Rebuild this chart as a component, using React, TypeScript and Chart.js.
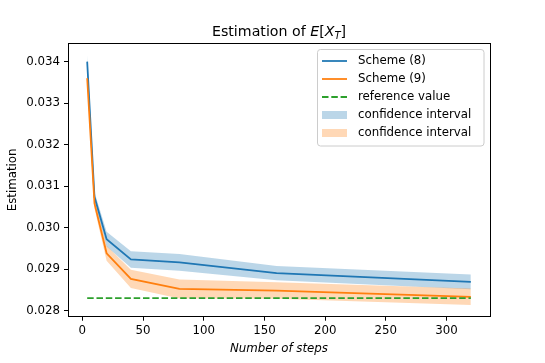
import React, { useEffect, useRef } from 'react';
import { Chart, registerables } from 'chart.js';

Chart.register(...registerables);

// ---- data ----
const steps = [4, 10, 20, 40, 80, 160, 320];
const scheme8 = [0.0340, 0.03074, 0.02972, 0.02923, 0.02916, 0.02890, 0.02869];
const scheme9 = [0.0336, 0.03058, 0.02938, 0.02876, 0.02852, 0.02848, 0.02833];
const ci8 = [0.00015, 0.00012, 0.00018, 0.0002, 0.0002, 0.00017, 0.00018];
const ci9 = [0.00012, 0.00012, 0.00018, 0.00022, 0.00023, 0.0002, 0.0002];
const referenceValue = 0.0283;
const xTicks = [0, 50, 100, 150, 200, 250, 300];
const xTickLabels = ['0', '50', '100', '150', '200', '250', '300'];
const yTicks = [0.028, 0.029, 0.030, 0.031, 0.032, 0.033, 0.034];
const yTickLabels = ['0.028', '0.029', '0.030', '0.031', '0.032', '0.033', '0.034'];
const legendLabels = ['Scheme (8)', 'Scheme (9)', 'reference value', 'confidence interval', 'confidence interval'];

const BLUE = '#1f77b4';
const ORANGE = '#ff7f0e';
const GREEN = '#2ca02c';
const BLUE_FILL = 'rgba(31,119,180,0.3)';
const ORANGE_FILL = 'rgba(255,127,14,0.3)';
const FONT = "'DejaVu Sans'";

const pts = (ys: number[]) => steps.map((x, i) => ({ x, y: ys[i] }));

const decorations = {
  id: 'decorations',
  afterDraw(chart: any) {
    const ctx = chart.ctx as CanvasRenderingContext2D;
    const a = chart.chartArea;
    ctx.save();
    // frame
    ctx.strokeStyle = '#000';
    ctx.lineWidth = 1;
    const l = Math.floor(a.left) + 0.5, r = Math.floor(a.right) + 0.5;
    const t = Math.floor(a.top) + 0.5, b = Math.floor(a.bottom) + 0.5;
    ctx.strokeRect(l, t, r - l, b - t);

    const cx = (a.left + a.right) / 2;
    // title
    const parts = [
      { s: 'Estimation of ', f: `14.2px ${FONT}`, dy: 0 },
      { s: 'E', f: `italic 14.2px ${FONT}`, dy: 0 },
      { s: '[', f: `14.2px ${FONT}`, dy: 0 },
      { s: 'X', f: `italic 14.2px ${FONT}`, dy: 0 },
      { s: 'T', f: `italic 10px ${FONT}`, dy: 3 },
      { s: ']', f: `14.2px ${FONT}`, dy: 0 },
    ];
    let w = 0;
    for (const p of parts) { ctx.font = p.f; w += ctx.measureText(p.s).width; }
    let x = cx - w / 2;
    ctx.fillStyle = '#000';
    ctx.textBaseline = 'alphabetic';
    ctx.textAlign = 'left';
    for (const p of parts) {
      ctx.font = p.f;
      ctx.fillText(p.s, x, 35.5 + p.dy);
      x += ctx.measureText(p.s).width;
    }
    // x axis label
    ctx.font = `italic 11.8px ${FONT}`;
    ctx.textAlign = 'center';
    ctx.textBaseline = 'middle';
    ctx.fillText('Number of steps', cx, 348.5);
    // y axis label
    ctx.save();
    ctx.translate(13, (a.top + a.bottom) / 2);
    ctx.rotate(-Math.PI / 2);
    ctx.font = `11.8px ${FONT}`;
    ctx.fillText('Estimation', 0, 0);
    ctx.restore();

    // legend
    const lx0 = 317.5, ly0 = 49.5, lx1 = 484, ly1 = 146;
    const rad = 3;
    ctx.beginPath();
    ctx.moveTo(lx0 + rad, ly0);
    ctx.arcTo(lx1, ly0, lx1, ly1, rad);
    ctx.arcTo(lx1, ly1, lx0, ly1, rad);
    ctx.arcTo(lx0, ly1, lx0, ly0, rad);
    ctx.arcTo(lx0, ly0, lx1, ly0, rad);
    ctx.closePath();
    ctx.fillStyle = 'rgba(255,255,255,0.8)';
    ctx.fill();
    ctx.strokeStyle = '#cccccc';
    ctx.lineWidth = 1;
    ctx.stroke();

    const rows = [61, 79, 97, 115, 133];
    const hx0 = 322, hx1 = 347;
    const styles = [
      { kind: 'line', c: BLUE, dash: [] as number[] },
      { kind: 'line', c: ORANGE, dash: [] as number[] },
      { kind: 'line', c: GREEN, dash: [6.5, 2.8] },
      { kind: 'patch', c: BLUE_FILL, dash: [] as number[] },
      { kind: 'patch', c: ORANGE_FILL, dash: [] as number[] },
    ];
    styles.forEach((s, i) => {
      const y = rows[i];
      if (s.kind === 'line') {
        ctx.beginPath();
        ctx.setLineDash(s.dash);
        ctx.strokeStyle = s.c;
        ctx.lineWidth = 1.77;
        ctx.moveTo(hx0, y);
        ctx.lineTo(hx1, y);
        ctx.stroke();
        ctx.setLineDash([]);
      } else {
        ctx.fillStyle = s.c;
        ctx.fillRect(hx0, y - 4, hx1 - hx0, 8);
      }
      ctx.fillStyle = '#000';
      ctx.font = `11.8px ${FONT}`;
      ctx.textAlign = 'left';
      ctx.textBaseline = 'middle';
      ctx.fillText(legendLabels[i], 358, y);
    });
    ctx.restore();
  },
};

export default function App() {
  const ref = useRef<HTMLCanvasElement | null>(null);
  useEffect(() => {
    if (!ref.current) return;
    const lower8 = scheme8.map((v, i) => v - ci8[i]);
    const upper8 = scheme8.map((v, i) => v + ci8[i]);
    const lower9 = scheme9.map((v, i) => v - ci9[i]);
    const upper9 = scheme9.map((v, i) => v + ci9[i]);
    const base = { pointRadius: 0, tension: 0 };
    const chart = new Chart(ref.current, {
      type: 'line',
      data: {
        datasets: [
          { ...base, label: legendLabels[0], data: pts(scheme8), borderColor: BLUE, borderWidth: 1.77, fill: false, order: 3 },
          { ...base, label: legendLabels[1], data: pts(scheme9), borderColor: ORANGE, borderWidth: 1.77, fill: false, order: 2 },
          { ...base, label: legendLabels[2], data: [{ x: steps[0], y: referenceValue }, { x: steps[steps.length - 1], y: referenceValue }], borderColor: GREEN, borderWidth: 1.77, borderDash: [6.5, 2.8], fill: false, order: 1 },
          { ...base, label: 'ci8 lower', data: pts(lower8), borderWidth: 0, borderColor: 'rgba(0,0,0,0)', fill: false, order: 5 },
          { ...base, label: legendLabels[3], data: pts(upper8), borderWidth: 0, borderColor: 'rgba(0,0,0,0)', backgroundColor: BLUE_FILL, fill: 3, order: 5 },
          { ...base, label: 'ci9 lower', data: pts(lower9), borderWidth: 0, borderColor: 'rgba(0,0,0,0)', fill: false, order: 4 },
          { ...base, label: legendLabels[4], data: pts(upper9), borderWidth: 0, borderColor: 'rgba(0,0,0,0)', backgroundColor: ORANGE_FILL, fill: 5, order: 4 },
        ] as any,
      },
      options: {
        responsive: false,
        animation: false,
        devicePixelRatio: 1,
        layout: { padding: { left: 0, right: 55, top: 43, bottom: 0 } },
        plugins: { legend: { display: false }, title: { display: false }, tooltip: { enabled: false } },
        scales: {
          x: {
            type: 'linear',
            min: -11.8,
            max: 335.8,
            afterBuildTicks: (s: any) => { s.ticks = xTicks.map((v) => ({ value: v })); },
            afterFit: (s: any) => { s.height = 46.3; },
            ticks: {
              autoSkip: false, maxRotation: 0, padding: 3, color: '#000',
              font: { family: 'DejaVu Sans', size: 11.8 },
              callback: (_v: any, i: number) => xTickLabels[i],
            },
            grid: { drawOnChartArea: false, drawTicks: true, tickLength: 4, color: '#000', tickWidth: 1 },
            border: { display: false },
          },
          y: {
            type: 'linear',
            min: 0.02785,
            max: 0.03445,
            afterBuildTicks: (s: any) => { s.ticks = yTicks.map((v) => ({ value: v })); },
            afterFit: (s: any) => { s.width = 68; },
            ticks: {
              autoSkip: false, padding: 4, color: '#000',
              font: { family: 'DejaVu Sans', size: 11.8 },
              callback: (_v: any, i: number) => yTickLabels[i],
            },
            grid: { drawOnChartArea: false, drawTicks: true, tickLength: 4, color: '#000', tickWidth: 1 },
            border: { display: false },
          },
        },
      } as any,
      plugins: [decorations],
    });
    return () => chart.destroy();
  }, []);
  return (
    <div style={{ position: 'fixed', left: 0, top: 0, width: 545, height: 363, background: '#fff' }}>
      <canvas ref={ref} width={545} height={363} style={{ display: 'block', width: 545, height: 363 }} />
    </div>
  );
}
